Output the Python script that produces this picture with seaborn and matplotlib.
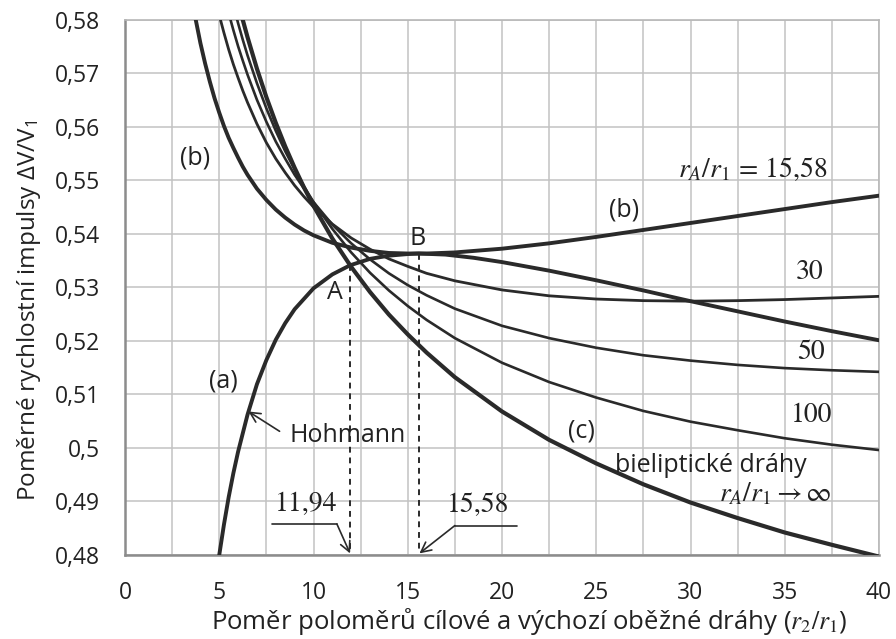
import numpy as np
import pandas as pd
import matplotlib
matplotlib.use('Agg')
import matplotlib.pyplot as plt
import seaborn as sns

# ---- data ----
r_hohmann = [5, 5.25, 5.5, 5.75, 6, 6.5, 7, 7.5, 8, 8.5, 9, 10, 11, 11.94, 13, 14, 15, 15.58,
             17, 18.5, 20, 22.5, 25, 27.5, 30, 32.5, 35, 37.5, 40]
dv_hohmann = [0.4800, 0.4857, 0.4908, 0.4953, 0.4993, 0.5062, 0.5119, 0.5164, 0.5202, 0.5233,
              0.5259, 0.5298, 0.5324, 0.5341, 0.5353, 0.5359, 0.5362, 0.5363, 0.5361, 0.5355,
              0.5347, 0.5331, 0.5313, 0.5294, 0.5274, 0.5255, 0.5236, 0.5218, 0.5201]

r_grid = [3.5, 3.75, 4, 4.25, 4.5, 4.75, 5, 5.25, 5.5, 5.75, 6, 6.25, 6.5, 7, 7.5, 8, 8.5, 9,
          9.5, 10, 11, 12, 13, 14, 15, 16, 17.5, 20, 22.5, 25, 27.5, 30, 32.5, 35, 37.5, 40]

r_1558 = r_grid
dv_1558 = [0.5849, 0.5800, 0.5756, 0.5718, 0.5684, 0.5653, 0.5626, 0.5601, 0.5579, 0.5560,
           0.5542, 0.5525, 0.5510, 0.5484, 0.5463, 0.5445, 0.5430, 0.5417, 0.5406, 0.5397,
           0.5383, 0.5374, 0.5368, 0.5364, 0.5363, 0.5363, 0.5365, 0.5372, 0.5382, 0.5394,
           0.5407, 0.5420, 0.5433, 0.5446, 0.5459, 0.5471]
r_30 = r_grid[6:]
dv_30 = [0.5808, 0.5775, 0.5744, 0.5716, 0.5691, 0.5667, 0.5645, 0.5605, 0.5570, 0.5540,
         0.5514, 0.5490, 0.5469, 0.5450, 0.5418, 0.5392, 0.5371, 0.5353, 0.5339, 0.5326,
         0.5312, 0.5295, 0.5284, 0.5278, 0.5275, 0.5274, 0.5275, 0.5277, 0.5280, 0.5283]
r_50 = r_grid[8:]
dv_50 = [0.5812, 0.5780, 0.5750, 0.5723, 0.5697, 0.5650, 0.5609, 0.5572, 0.5540, 0.5510,
         0.5484, 0.5459, 0.5417, 0.5382, 0.5352, 0.5326, 0.5304, 0.5285, 0.5260, 0.5228,
         0.5205, 0.5187, 0.5173, 0.5163, 0.5155, 0.5149, 0.5145, 0.5142]
r_100 = r_grid[9:]
dv_100 = [0.5826, 0.5793, 0.5762, 0.5733, 0.5681, 0.5634, 0.5592, 0.5554, 0.5520, 0.5488,
          0.5459, 0.5409, 0.5365, 0.5327, 0.5294, 0.5265, 0.5239, 0.5205, 0.5159, 0.5123,
          0.5094, 0.5069, 0.5049, 0.5033, 0.5018, 0.5006, 0.4996]
r_inf = r_grid[10:]
dv_inf = [0.5833, 0.5799, 0.5767, 0.5708, 0.5655, 0.5607, 0.5563, 0.5523, 0.5486, 0.5452,
          0.5391, 0.5338, 0.5291, 0.5249, 0.5212, 0.5178, 0.5132, 0.5068, 0.5015, 0.4971,
          0.4932, 0.4898, 0.4869, 0.4842, 0.4819, 0.4797]

x_ticks = [0, 5, 10, 15, 20, 25, 30, 35, 40]
x_tick_labels = ['0', '5', '10', '15', '20', '25', '30', '35', '40']
y_ticks = [0.48, 0.49, 0.50, 0.51, 0.52, 0.53, 0.54, 0.55, 0.56, 0.57, 0.58]
y_tick_labels = ['0,48', '0,49', '0,5', '0,51', '0,52', '0,53', '0,54', '0,55', '0,56', '0,57', '0,58']

r_point_a, r_point_b = 11.94, 15.58
dv_point_a, dv_point_b = 0.5341, 0.5363

curves = [('hohmann', r_hohmann, dv_hohmann), ('b', r_1558, dv_1558), ('30', r_30, dv_30),
          ('50', r_50, dv_50), ('100', r_100, dv_100), ('inf', r_inf, dv_inf)]
df = pd.concat([pd.DataFrame({'curve': n, 'R': r, 'dv': v}) for n, r, v in curves],
               ignore_index=True)

sns.set_theme(style='white')
plt.rcParams['font.family'] = ['Open Sans', 'DejaVu Sans']
plt.rcParams['mathtext.fontset'] = 'stix'

fig = plt.figure(figsize=(8.96, 6.39), dpi=100)
ax = fig.add_axes([125/896, 1-555/639, 754/896, 535.5/639])
ink = '#2a2a2a'
sizes = {'hohmann': 2.8, 'b': 2.8, '30': 2.0, '50': 1.9, '100': 1.9, 'inf': 3.0}
pal = {k: ink for k in sizes}
sns.lineplot(data=df, x='R', y='dv', hue='curve', size='curve', sizes=sizes, palette=pal,
             legend=False, estimator=None, sort=False, ax=ax, zorder=3)

ax.set_xlim(0, 40)
ax.set_ylim(0.48, 0.58)
ax.set_xticks(x_ticks)
ax.set_xticklabels(x_tick_labels)
ax.set_xticks(np.arange(0, 40.01, 2.5), minor=True)
ax.set_yticks(y_ticks)
ax.set_yticklabels(y_tick_labels)
ax.grid(which='both', color='#c2c2c2', lw=1.1, zorder=0)
ax.set_axisbelow(True)
ax.tick_params(axis='both', which='major', labelsize=16.5, direction='in', length=5,
               width=1.6, color='#8c8c8c', labelcolor='#222222')
ax.tick_params(axis='x', which='major', pad=19)
ax.tick_params(axis='y', which='major', pad=18)
ax.tick_params(axis='x', which='minor', length=0)
for s in ['left', 'bottom']:
    ax.spines[s].set_color('#8c8c8c'); ax.spines[s].set_linewidth(1.8)
for s in ['top', 'right']:
    ax.spines[s].set_color('#b8b8b8'); ax.spines[s].set_linewidth(1.2)

ax.set_xlabel('Poměr poloměrů cílové a výchozí oběžné dráhy ($r_2/r_1$)', fontsize=18.5,
              color='#222222', va='center')
ax.xaxis.set_label_coords(0.536, -0.125)
ax.set_ylabel('Poměrné rychlostní impulsy ΔV/$\\mathregular{V_1}$', fontsize=17.5,
              color='#222222', va='center', ha='center')
ax.yaxis.set_label_coords(-0.127, 0.456)

tk = dict(color='#222222', ha='center', va='center', fontsize=18)
sk = dict(color='#222222', ha='center', va='center', fontsize=20, family='STIXGeneral')
ax.text(3.7, 0.5542, '(b)', **tk)
ax.text(26.5, 0.5445, '(b)', **tk)
ax.text(5.24, 0.5125, '(a)', **tk)
ax.text(24.2, 0.5031, '(c)', **tk)
ax.text(11.15, 0.5290, 'A', **tk)
ax.text(15.5, 0.5391, 'B', **tk)
ax.text(31.1, 0.4968, 'bieliptické dráhy', **tk)
ax.text(8.75, 0.5024, 'Hohmann', color='#222222', ha='left', va='center', fontsize=18)
ax.text(33.3, 0.5520, '$r_A/r_1\\,=\\,15{,}58$', **sk)
ax.text(34.5, 0.4914, '$r_A/r_1 \\rightarrow \\infty$', **sk)
ax.text(36.3, 0.5328, '30', **sk)
ax.text(36.4, 0.5178, '50', **sk)
ax.text(36.4, 0.5061, '100', **sk)
ax.text(9.6, 0.4894, '11,94', **sk)
ax.text(18.73, 0.4892, '15,58', **sk)

ax.plot([r_point_a, r_point_a], [dv_point_a, 0.4803], color=ink, lw=1.4, ls=(0, (3, 2.5)), zorder=2)
ax.plot([r_point_b, r_point_b], [dv_point_b, 0.4803], color=ink, lw=1.4, ls=(0, (3, 2.5)), zorder=2)
ax.plot([7.8, 11.24], [0.4858, 0.4858], color=ink, lw=1.2)
ax.plot([17.5, 20.8], [0.4855, 0.4855], color=ink, lw=1.2)
arr = dict(arrowstyle='->', color=ink, lw=1.2, mutation_scale=18, shrinkA=0, shrinkB=0)
ax.annotate('', xy=(r_point_a, 0.4803), xytext=(11.24, 0.4858), arrowprops=arr)
ax.annotate('', xy=(r_point_b + 0.04, 0.4803), xytext=(17.5, 0.4855), arrowprops=arr)
ax.annotate('', xy=(6.55, 0.5068), xytext=(8.2, 0.5031), arrowprops=arr)

fig.savefig('out.png', dpi=100, facecolor='white')
